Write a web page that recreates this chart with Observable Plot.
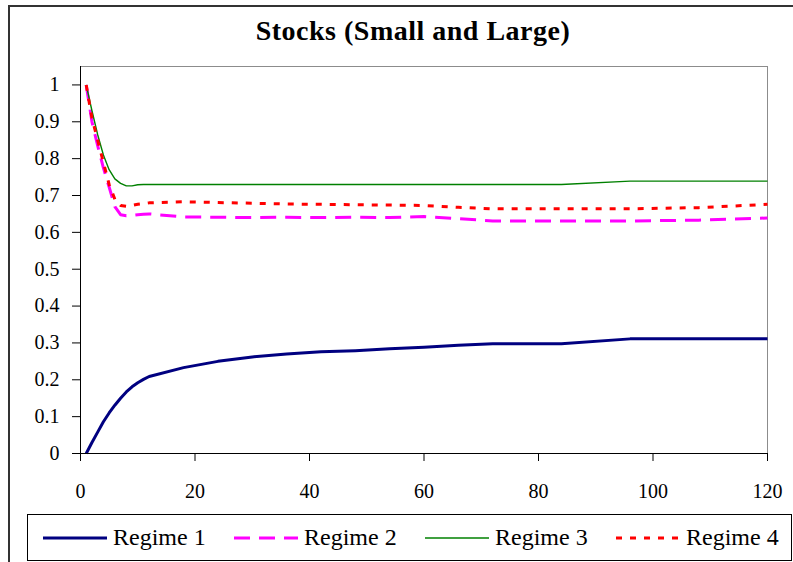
<!DOCTYPE html>
<html><head><meta charset="utf-8">
<script src="https://cdn.jsdelivr.net/npm/d3@7"></script>
<script src="https://cdn.jsdelivr.net/npm/@observablehq/plot@0.6"></script>
<style>
body{margin:0;background:#fff;}
#wrap{position:relative;width:793px;height:562px;overflow:hidden;font-family:"Liberation Serif",serif;background:#fff;}
#border{position:absolute;left:8px;top:5px;width:900px;height:700px;border-left:2px solid #333;border-top:2px solid #333;}
#title{position:absolute;left:0;top:15px;width:826px;text-align:center;font-weight:bold;font-size:28px;letter-spacing:0.5px;color:#000;}
#chart{position:absolute;left:0;top:0;}
#legend{position:absolute;left:27px;top:514px;width:763px;height:45px;border:1px solid #000;background:#fff;}
.item{position:absolute;top:0;height:45px;display:flex;align-items:center;font-size:24px;color:#000;white-space:nowrap;}
.item svg{margin-right:6px;}
</style></head>
<body>
<div id="wrap">
  <div id="border"></div>
  <div id="chart"></div>
  <div id="title">Stocks (Small and Large)</div>
  <div id="legend"></div>
</div>
<script>
const horizons = [1,2,3,4,5,6,7,8,9,10,11,12,18,24,30,36,42,48,54,60,66,72,84,96,108,120];
const regime1 = [0,0.03,0.058,0.086,0.11,0.131,0.15,0.167,0.181,0.192,0.201,0.209,0.233,0.25,0.262,0.27,0.276,0.279,0.284,0.288,0.294,0.298,0.298,0.311,0.311,0.311];
const regime2 = [1,0.9,0.835,0.775,0.723,0.67,0.648,0.645,0.646,0.648,0.649,0.65,0.642,0.641,0.64,0.641,0.64,0.641,0.64,0.643,0.637,0.631,0.631,0.631,0.633,0.639];
const regime3 = [1,0.93,0.865,0.81,0.77,0.745,0.733,0.726,0.726,0.729,0.73,0.73,0.73,0.73,0.73,0.73,0.73,0.73,0.73,0.73,0.73,0.73,0.73,0.739,0.739,0.739];
const regime4 = [1,0.91,0.85,0.79,0.73,0.69,0.673,0.671,0.673,0.676,0.678,0.68,0.683,0.681,0.679,0.677,0.676,0.675,0.674,0.673,0.668,0.664,0.664,0.664,0.667,0.676];
const seriesNames = ["Regime 1","Regime 2","Regime 3","Regime 4"];
const xTicks = [0,20,40,60,80,100,120];
const yTicks = [0,0.1,0.2,0.3,0.4,0.5,0.6,0.7,0.8,0.9,1];

const seriesValues = [regime1, regime2, regime3, regime4];
const styles = [
  {stroke:"#000080", strokeWidth:3, dash:null},
  {stroke:"#FF00FF", strokeWidth:3, dash:"16,9"},
  {stroke:"#008000", strokeWidth:1.4, dash:null},
  {stroke:"#FF0000", strokeWidth:3, dash:"6,8"}
];
const tables = seriesValues.map((vals, i) => horizons.map((h, j) => ({h, v: vals[j], s: seriesNames[i]})));

const chart = Plot.plot({
  width: 793, height: 510,
  marginLeft: 80, marginRight: 26, marginTop: 66, marginBottom: 57,
  style: {fontFamily: "'Liberation Serif', serif", fontSize: "20px", color: "#000", background: "transparent"},
  x: {domain: [0, 120]},
  y: {domain: [0, 1.05]},
  marks: [
    Plot.frame({stroke: "#8c8c8c"}),
    Plot.axisX({ticks: xTicks, tickSize: 8, tickPadding: 22, label: null, tickFormat: d => String(d), stroke: "#000"}),
    Plot.axisY({ticks: yTicks, tickSize: 8, tickPadding: 13, label: null, tickFormat: d => String(+d.toFixed(1)), stroke: "#000"}),
    ...tables.map((t, i) => Plot.line(t, {x: "h", y: "v", stroke: styles[i].stroke, strokeWidth: styles[i].strokeWidth, strokeDasharray: styles[i].dash, strokeLinejoin: "round", strokeLinecap: "butt"})),
    Plot.ruleX([0], {stroke: "#000"}),
    Plot.ruleY([0], {stroke: "#000"})
  ]
});
document.getElementById("chart").appendChild(chart);

const legend = d3.select("#legend");
seriesNames.forEach((name, i) => {
  const item = legend.append("div").attr("class", "item").style("left", (15 + i * 191) + "px");
  const svg = item.append("svg").attr("width", 64).attr("height", 10);
  svg.append("line").attr("x1", 0).attr("x2", 64).attr("y1", 5).attr("y2", 5)
    .attr("stroke", styles[i].stroke).attr("stroke-width", styles[i].strokeWidth)
    .attr("stroke-dasharray", styles[i].dash);
  item.append("span").text(name);
});
</script>
</body></html>
